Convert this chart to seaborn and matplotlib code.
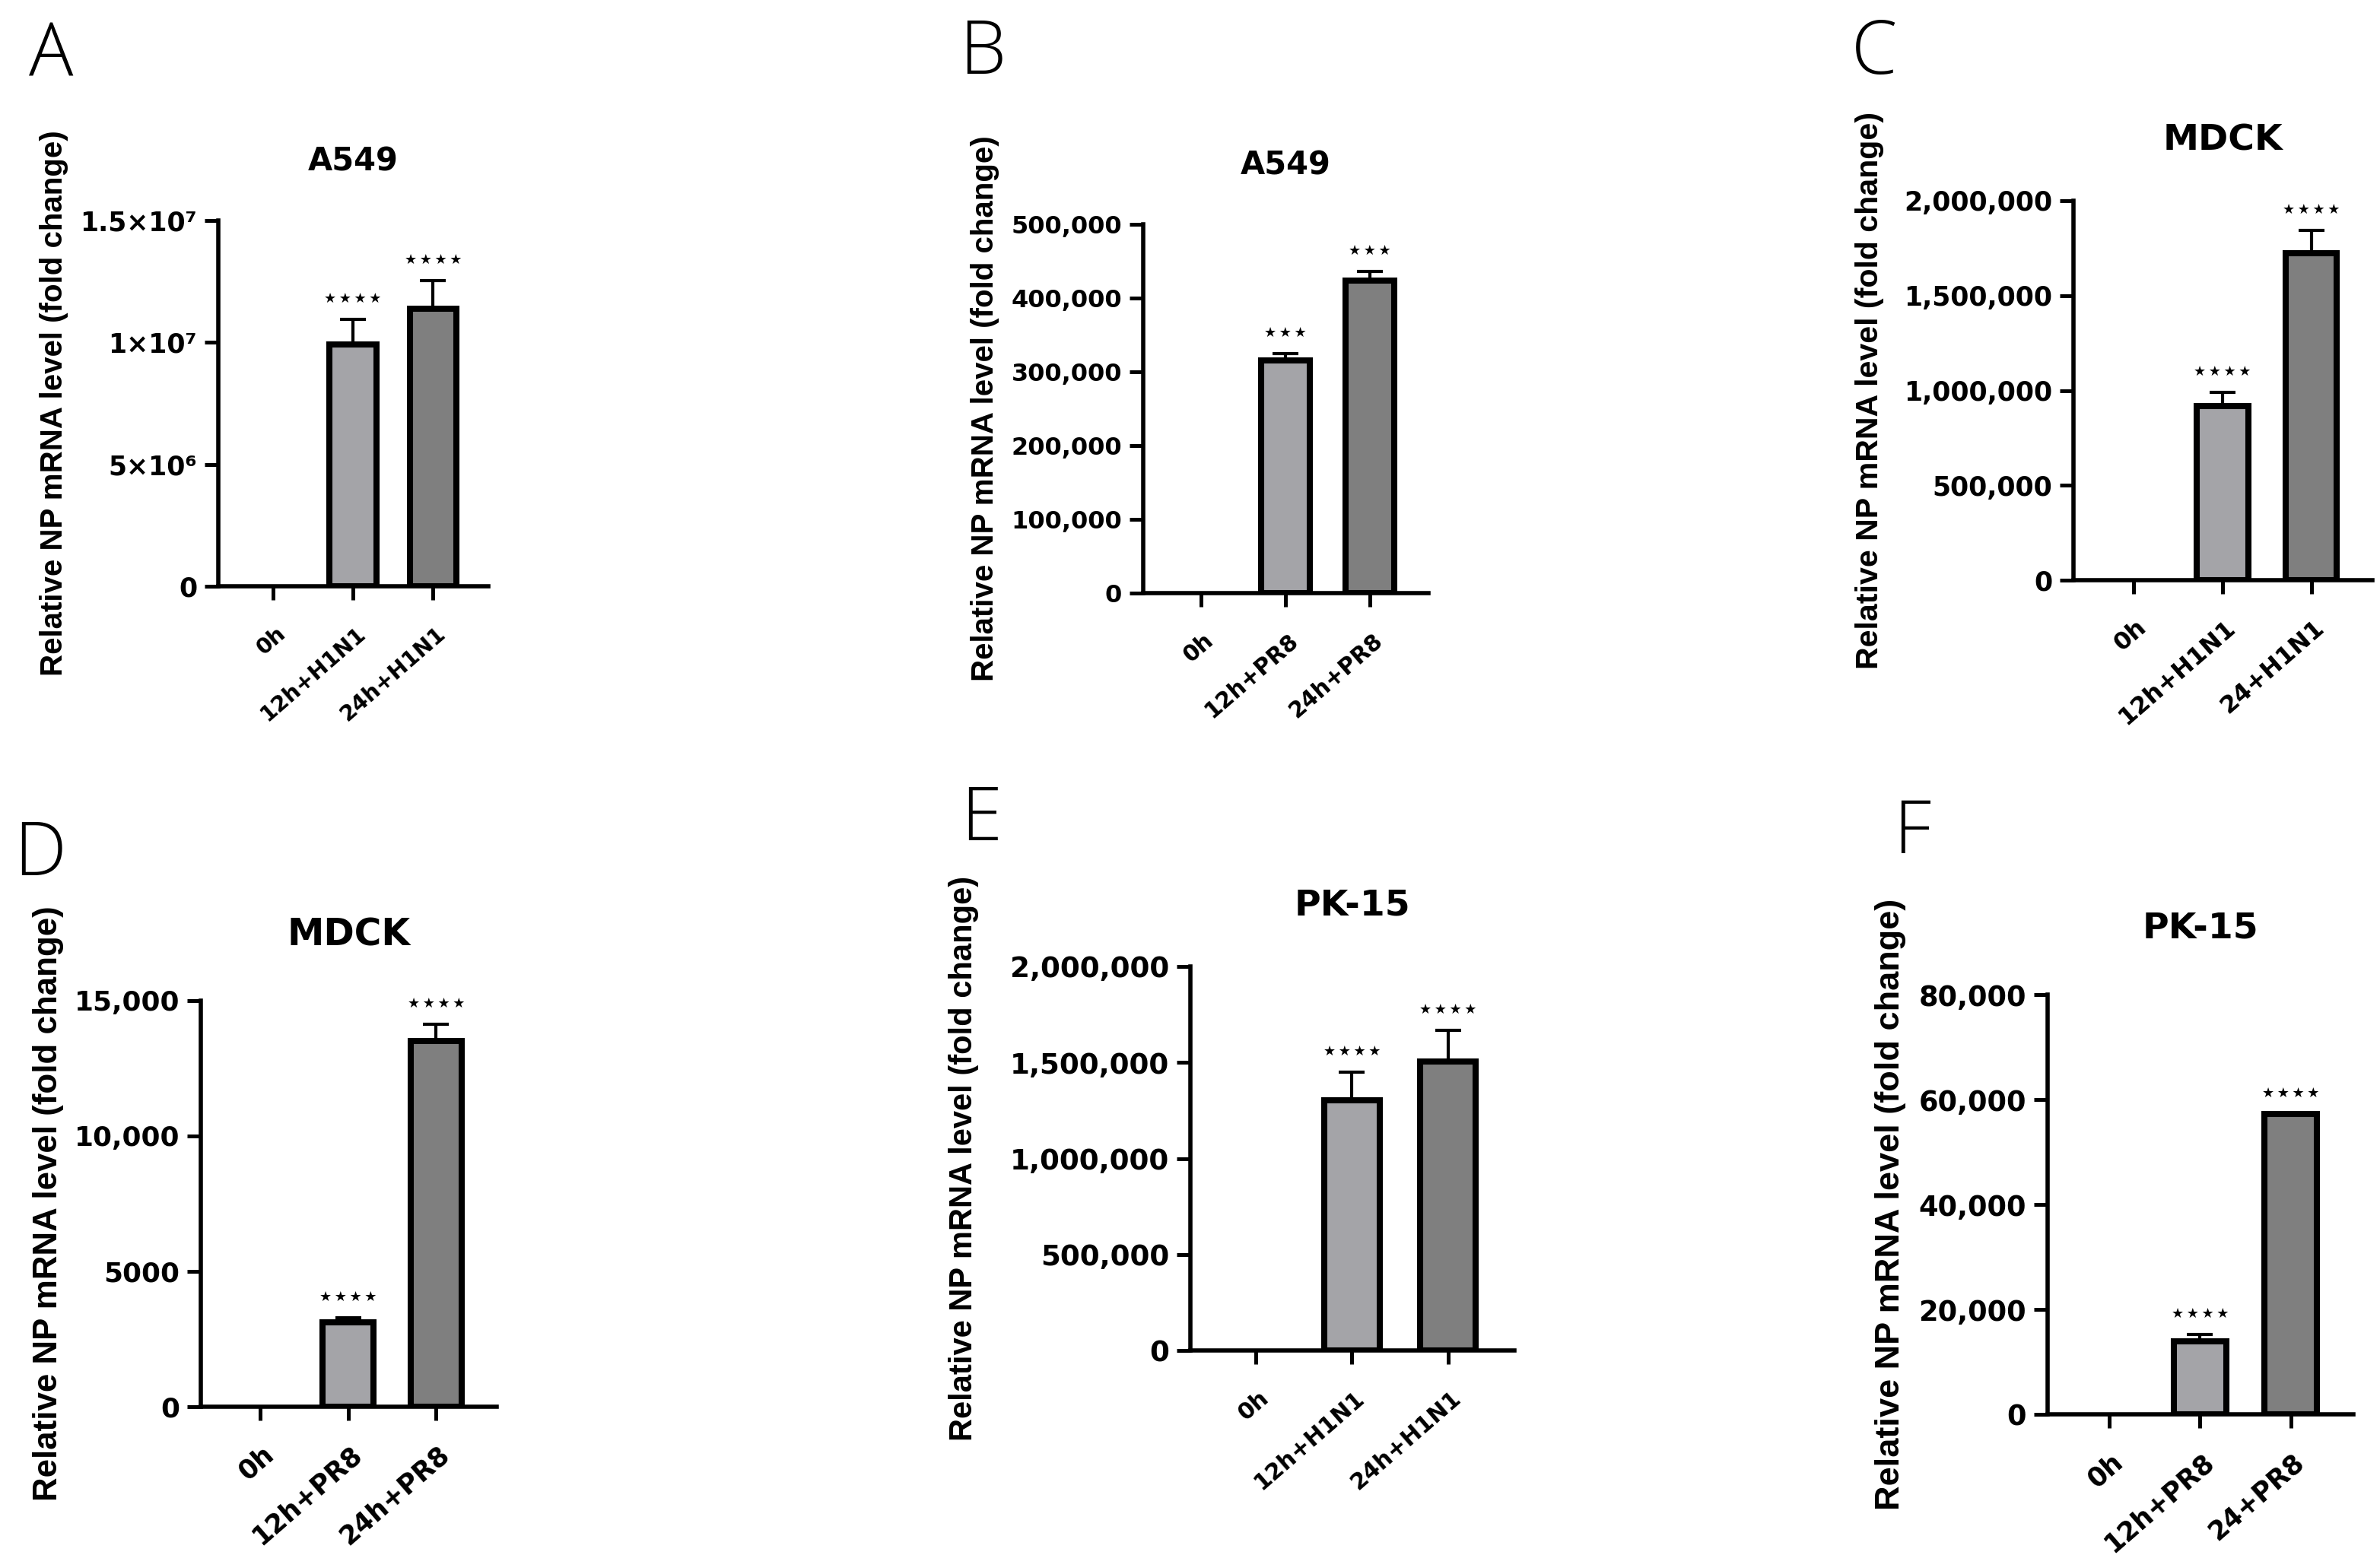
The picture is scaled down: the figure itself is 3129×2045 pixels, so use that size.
import numpy as np
import pandas as pd
import matplotlib
matplotlib.use("Agg")
import matplotlib.pyplot as plt
import seaborn as sns
from matplotlib.transforms import ScaledTranslation

# ---------------- data ----------------
cats_A = ["0h", "12h+H1N1", "24h+H1N1"]
vals_A = [0, 9.93e6, 1.137e7]
err_A = [0, 1.01e6, 1.17e6]
stars_A = ["", "****", "****"]
yticks_A = [0, 5e6, 1e7, 1.5e7]
ytl_A = ["0", "5×10⁶", "1×10⁷", "1.5×10⁷"]

cats_B = ["0h", "12h+PR8", "24h+PR8"]
vals_B = [0, 315000, 424000]
err_B = [0, 9900, 12000]
stars_B = ["", "***", "***"]
yticks_B = [0, 100000, 200000, 300000, 400000, 500000]
ytl_B = ["0", "100,000", "200,000", "300,000", "400,000", "500,000"]

cats_C = ["0h", "12h+H1N1", "24+H1N1"]
vals_C = [0, 918500, 1723000]
err_C = [0, 72500, 122000]
stars_C = ["", "****", "****"]
yticks_C = [0, 500000, 1000000, 1500000, 2000000]
ytl_C = ["0", "500,000", "1,000,000", "1,500,000", "2,000,000"]

cats_D = ["0h", "12h+PR8", "24h+PR8"]
vals_D = [0, 3130, 13510]
err_D = [0, 165, 625]
stars_D = ["", "****", "****"]
yticks_D = [0, 5000, 10000, 15000]
ytl_D = ["0", "5000", "10,000", "15,000"]

cats_E = ["0h", "12h+H1N1", "24h+H1N1"]
vals_E = [0, 1303000, 1503000]
err_E = [0, 148000, 165000]
stars_E = ["", "****", "****"]
yticks_E = [0, 500000, 1000000, 1500000, 2000000]
ytl_E = ["0", "500,000", "1,000,000", "1,500,000", "2,000,000"]

cats_F = ["0h", "12h+PR8", "24+PR8"]
vals_F = [0, 13860, 57220]
err_F = [0, 1330, 0]
stars_F = ["", "****", "****"]
yticks_F = [0, 20000, 40000, 60000, 80000]
ytl_F = ["0", "20,000", "40,000", "60,000", "80,000"]

titles = ["A549", "A549", "MDCK", "MDCK", "PK-15", "PK-15"]
letters = ["A", "B", "C", "D", "E", "F"]
ylabel_text = "Relative NP mRNA level (fold change)"
bar_colors = ["#a4a4a8", "#a4a4a8", "#7f7f7f"]

# ---------------- style ----------------
sns.set_style("ticks")
plt.rcParams.update({
    "font.family": ["DejaVu Sans"],
    "font.weight": "bold",
    "text.color": "black",
    "axes.labelcolor": "black",
    "axes.edgecolor": "black",
    "xtick.color": "black",
    "ytick.color": "black",
})

W, H = 3129, 2045
DPI = 100
fig = plt.figure(figsize=(W / DPI, H / DPI), dpi=DPI)

# layout in pixels: (left, top, right, zero-line)
layout = {
    "A": dict(rect=(287, 290, 642, 771), yts=25, xts=20.8, yl=29, yloff=216, tsize=30, toff=66, letter=(67, 100)),
    "B": dict(rect=(1503, 295, 1878, 780), yts=23, xts=21.3, yl=29, yloff=208, tsize=30, toff=65, letter=(1292, 97)),
    "C": dict(rect=(2726, 264, 3119, 763), yts=25, xts=23, yl=29.6, yloff=268, tsize=34, toff=66, letter=(2464, 97)),
    "D": dict(rect=(264, 1316, 653, 1850), yts=25.8, xts=25, yl=31.6, yloff=200, tsize=35, toff=73, letter=(53, 1151)),
    "E": dict(rect=(1565, 1271, 1991, 1776), yts=26.8, xts=21.8, yl=30, yloff=298, tsize=34, toff=67, letter=(1290, 1105)),
    "F": dict(rect=(2692, 1308, 3094, 1860), yts=26.5, xts=25, yl=32.5, yloff=206, tsize=34, toff=74, letter=(2514, 1122)),
}

panels = [
    (cats_A, vals_A, err_A, stars_A, yticks_A, ytl_A),
    (cats_B, vals_B, err_B, stars_B, yticks_B, ytl_B),
    (cats_C, vals_C, err_C, stars_C, yticks_C, ytl_C),
    (cats_D, vals_D, err_D, stars_D, yticks_D, ytl_D),
    (cats_E, vals_E, err_E, stars_E, yticks_E, ytl_E),
    (cats_F, vals_F, err_F, stars_F, yticks_F, ytl_F),
]

for letter, title, (cats, vals, errs, stars, yt, ytl) in zip(letters, titles, panels):
    st = layout[letter]
    l, t, r, b = st["rect"]
    wpx, hpx = r - l, b - t
    ax = fig.add_axes([l / W, (H - b) / H, wpx / W, hpx / H])

    df = pd.DataFrame({"group": cats, "value": vals})
    sns.barplot(data=df, x="group", y="value", hue="group", order=cats, hue_order=cats,
                palette=dict(zip(cats, bar_colors)), width=0.58, edgecolor="black",
                linewidth=5.8, errorbar=None, legend=False, saturation=1, ax=ax)
    for p in ax.patches:
        if p.get_height() == 0:
            p.set_linewidth(0)

    xs = np.arange(len(cats))
    vals_a = np.asarray(vals, float)
    errs_a = np.asarray(errs, float)
    m = errs_a > 0
    ax.errorbar(xs[m], vals_a[m], yerr=[np.zeros(m.sum()), errs_a[m]], fmt="none",
                ecolor="black", elinewidth=3, capsize=12, capthick=3, zorder=0.9)
    for x, v, e, s in zip(xs, vals_a, errs_a, stars):
        if s:
            ax.annotate("\u2009".join("★" * len(s)), xy=(x, v + e), xytext=(0, 19.5),
                        textcoords="offset points", ha="center", va="center",
                        fontsize=13, annotation_clip=False)

    ax.set_xlim(-0.68, len(cats) - 1 + 0.69)
    ax.set_ylim(0, yt[-1])
    ax.set_yticks(yt)
    ax.set_yticklabels(ytl, fontsize=st["yts"], fontweight="bold")
    ax.tick_params(axis="y", length=13, width=3.6, pad=7, direction="out")
    ax.tick_params(axis="x", length=13, width=3.6, pad=29, direction="out")
    ax.set_xticks(xs)
    ax.set_xticklabels(cats, rotation=41, ha="right", va="center", rotation_mode="anchor",
                       fontsize=st["xts"], fontweight="bold")
    off = ScaledTranslation(13 / DPI, 0, fig.dpi_scale_trans)
    for lbl in ax.get_xticklabels():
        lbl.set_transform(lbl.get_transform() + off)

    for side in ["top", "right"]:
        ax.spines[side].set_visible(False)
    for side in ["left", "bottom"]:
        ax.spines[side].set_linewidth(4)
        ax.spines[side].set_color("black")

    ax.set_xlabel("")
    ax.set_ylabel(ylabel_text, fontsize=st["yl"], fontfamily=["Liberation Sans", "DejaVu Sans"],
                  fontweight="bold", va="center")
    ax.yaxis.set_label_coords(-st["yloff"] / wpx, 0.5)

    ax.set_title(title, fontsize=st["tsize"], fontweight="bold", y=1 + st["toff"] / hpx,
                 va="baseline", pad=0)

    lx, ly = st["letter"]
    fig.text(lx / W, 1 - ly / H, letter, ha="center", va="baseline", fontsize=70,
             fontfamily=["Open Sans", "DejaVu Sans"], fontweight="light", color="black")

fig.savefig("out.png", dpi=DPI, facecolor="white")
